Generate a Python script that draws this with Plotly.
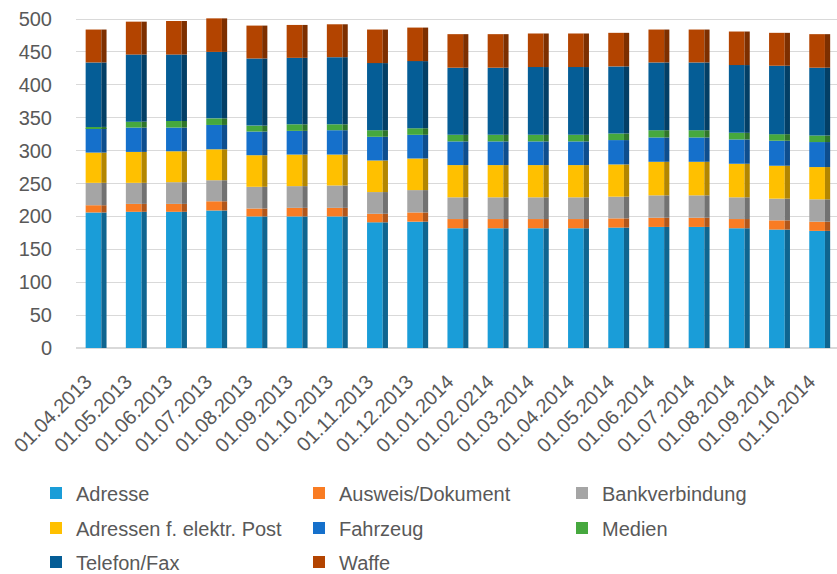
import plotly.graph_objects as go
import numpy as np

dates = ["01.04.2013", "01.05.2013", "01.06.2013", "01.07.2013", "01.08.2013",
         "01.09.2013", "01.10.2013", "01.11.2013", "01.12.2013", "01.01.2014",
         "01.02.0214", "01.03.2014", "01.04.2014", "01.05.2014", "01.06.2014",
         "01.07.2014", "01.08.2014", "01.09.2014", "01.10.2014"]

adresse = [206, 207, 207, 209, 200, 200, 200, 191, 192, 182, 182, 182, 182, 183, 184, 184, 182, 180, 178]
ausweis = [11, 12, 12, 14, 12, 13, 13, 13, 14, 14, 14, 14, 14, 14, 14, 14, 14, 14, 14]
bank = [34, 32, 33, 32, 33, 33, 34, 33, 34, 33, 33, 33, 33, 33, 34, 34, 33, 33, 34]
epost = [46, 47, 47, 47, 48, 48, 47, 48, 48, 49, 49, 49, 49, 49, 51, 51, 51, 50, 49]
fahrzeug = [37, 37, 36, 37, 36, 36, 37, 36, 36, 36, 36, 36, 36, 37, 37, 37, 37, 38, 38]
medien = [2, 9, 10, 10, 9, 10, 9, 10, 10, 10, 10, 10, 10, 10, 11, 11, 10, 10, 10]
telefon = [98, 102, 101, 101, 102, 101, 102, 102, 102, 102, 102, 103, 103, 102, 103, 103, 103, 104, 103]
waffe = [50, 50, 51, 51, 50, 50, 50, 51, 51, 51, 51, 51, 51, 51, 50, 50, 51, 50, 51]

series_names = ["Adresse", "Ausweis/Dokument", "Bankverbindung", "Adressen f. elektr. Post",
                "Fahrzeug", "Medien", "Telefon/Fax", "Waffe"]
series_values = [adresse, ausweis, bank, epost, fahrzeug, medien, telefon, waffe]
front_colors = ["#1A9DD8", "#F97C23", "#A5A5A5", "#FFC000", "#1570CB", "#46A83E", "#055D96", "#B34400"]
side_colors = ["#0F6590", "#B2561A", "#727272", "#B38600", "#0E4E8E", "#2F7529", "#033F66", "#7D2F00"]
legend_rows = ["legend", "legend", "legend", "legend2", "legend2", "legend2", "legend3", "legend3"]

x = list(range(len(dates)))
fig = go.Figure()
base = np.zeros(len(dates))
for name, vals, fc, sc, lg in zip(series_names, series_values, front_colors, side_colors, legend_rows):
    v = np.array(vals, dtype=float)
    fig.add_trace(go.Bar(x=x, y=v, base=base.copy(), name=name, marker=dict(color=fc, line=dict(width=0)),
                         width=0.39, offset=-0.26, legend=lg))
    fig.add_trace(go.Bar(x=x, y=v, base=base.copy(), name=name, marker=dict(color=sc, line=dict(width=0)),
                         width=0.13, offset=0.13, showlegend=False, hoverinfo="skip"))
    base = base + v

font_fam = "Liberation Sans, Arial, sans-serif"
txt = "#595959"

W, H = 837, 574
ML, MR, MT, MB = 76, 0, 10, 226
plot_w = W - ML - MR
plot_h = H - MT - MB


def leg(ypx):
    return dict(orientation="h", xref="paper", yref="paper",
                x=(36 - ML) / plot_w, y=(H - MB - ypx) / plot_h,
                xanchor="left", yanchor="middle", entrywidth=218, traceorder="normal",
                font=dict(size=20, color=txt), itemclick=False, bgcolor="rgba(0,0,0,0)")


fig.update_layout(
    width=W, height=H,
    barmode="overlay",
    paper_bgcolor="white", plot_bgcolor="white",
    margin=dict(l=ML, r=MR, t=MT, b=MB, autoexpand=False),
    font=dict(family=font_fam, size=20, color=txt),
    xaxis=dict(tickmode="array", tickvals=[i - 0.25 for i in x], ticktext=dates, tickangle=-45,
               range=[-0.5, 18.43], showgrid=False, zeroline=False, showline=False,
               ticks="", ticklabelstandoff=17, automargin=False,
               tickfont=dict(size=20, color=txt)),
    yaxis=dict(range=[0, 513.7], tickvals=list(range(0, 501, 50)), showgrid=True,
               gridcolor="#D9D9D9", gridwidth=1, zeroline=True, zerolinecolor="#D9D9D9",
               showline=False, ticks="", ticklabelstandoff=23, automargin=False,
               tickfont=dict(size=20, color=txt)),
    legend=leg(493),
    legend2=leg(528),
    legend3=leg(562),
    showlegend=True,
)

fig.write_html("out.html", config={"displayModeBar": False},
               post_script="document.body.style.margin='0';document.body.style.overflow='hidden';")
